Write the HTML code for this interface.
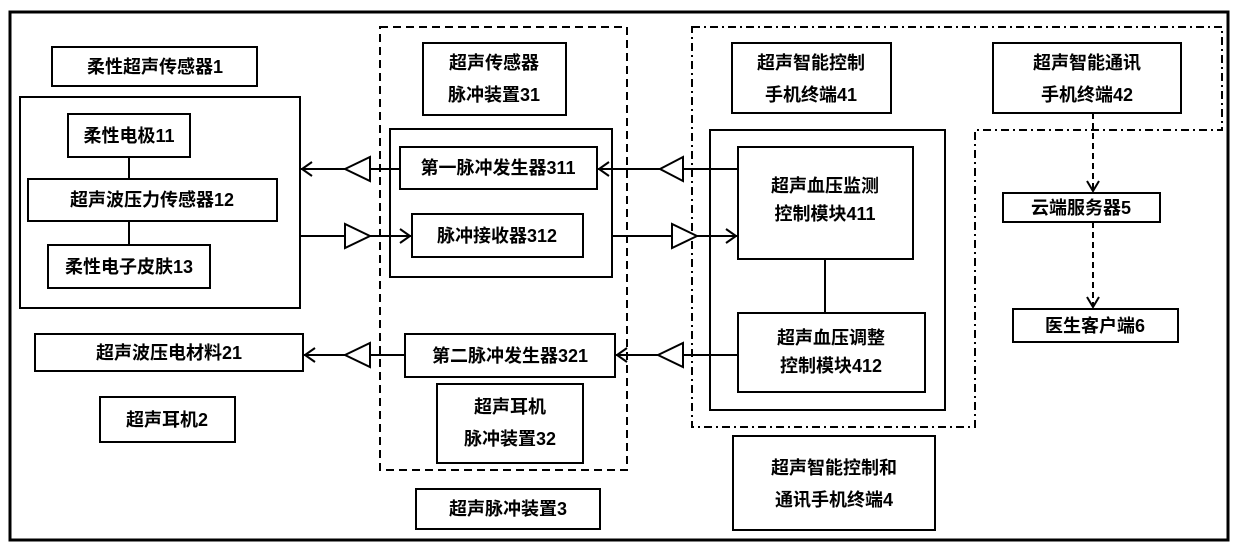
<!DOCTYPE html>
<html><head><meta charset="utf-8"><style>
html,body{margin:0;padding:0;background:#fff;}
svg text{font-family:"Liberation Sans","Noto Sans CJK SC",sans-serif;font-weight:bold;font-size:18px;fill:#000;text-anchor:middle;dominant-baseline:central;}
</style></head><body>
<svg width="1240" height="555" viewBox="0 0 1240 555" xmlns="http://www.w3.org/2000/svg">
<g fill="none" stroke="#000">
<rect x="10" y="12" width="1218" height="528" stroke-width="3"/>
<!-- dashed box 3 -->
<rect x="380" y="27" width="247" height="443" stroke-width="2" stroke-dasharray="8,5"/>
<!-- dash-dot box 4 -->
<path d="M692 27 H1222 V130 H975 V427 H692 Z" stroke-width="2" stroke-dasharray="8,4,2,4"/>
<g stroke-width="2">
<rect x="52" y="47" width="205" height="39"/>
<rect x="20" y="97" width="280" height="211"/>
<rect x="68" y="114" width="122" height="43"/>
<rect x="28" y="179" width="249" height="42"/>
<rect x="48" y="245" width="162" height="43"/>
<rect x="35" y="334" width="268" height="37"/>
<rect x="100" y="397" width="135" height="45"/>
<rect x="423" y="43" width="143" height="72"/>
<rect x="390" y="129" width="222" height="148"/>
<rect x="400" y="147" width="197" height="42"/>
<rect x="412" y="214" width="171" height="43"/>
<rect x="405" y="334" width="210" height="43"/>
<rect x="437" y="384" width="146" height="79"/>
<rect x="416" y="489" width="184" height="40"/>
<rect x="732" y="43" width="159" height="70"/>
<rect x="993" y="43" width="188" height="70"/>
<rect x="710" y="130" width="235" height="280"/>
<rect x="738" y="147" width="175" height="112"/>
<rect x="738" y="313" width="187" height="79"/>
<rect x="733" y="436" width="202" height="94"/>
<rect x="1003" y="193" width="157" height="29"/>
<rect x="1013" y="309" width="165" height="33"/>
<line x1="129" y1="157" x2="129" y2="179"/>
<line x1="129" y1="221" x2="129" y2="245"/>
<line x1="825" y1="259" x2="825" y2="313"/>
<!-- arrows -->
<line x1="300" y1="169" x2="400" y2="169"/>
<polyline points="312,162 302,169 312,176"/>
<polygon points="345,169 370,157 370,181" fill="#fff"/>
<line x1="597" y1="169" x2="738" y2="169"/>
<polyline points="609,162 599,169 609,176"/>
<polygon points="660,169 683,157 683,181" fill="#fff"/>
<line x1="300" y1="236" x2="412" y2="236"/>
<polyline points="400,229 410,236 400,243"/>
<polygon points="370,236 345,224 345,248" fill="#fff"/>
<line x1="612" y1="236" x2="738" y2="236"/>
<polyline points="726,229 736,236 726,243"/>
<polygon points="697,236 672,224 672,248" fill="#fff"/>
<line x1="303" y1="355" x2="405" y2="355"/>
<polyline points="315,348 305,355 315,362"/>
<polygon points="345,355 370,343 370,367" fill="#fff"/>
<line x1="615" y1="355" x2="738" y2="355"/>
<polyline points="627,348 617,355 627,362"/>
<polygon points="658,355 683,343 683,367" fill="#fff"/>
</g>
<g stroke-width="2" stroke-dasharray="6,4">
<line x1="1093" y1="113" x2="1093" y2="191"/>
<line x1="1093" y1="222" x2="1093" y2="307"/>
</g>
<polyline points="1087,181 1093,191 1099,181" stroke-width="2"/>
<polyline points="1087,297 1093,307 1099,297" stroke-width="2"/>
</g>
<text x="155" y="67">柔性超声传感器1</text>
<text x="129" y="136">柔性电极11</text>
<text x="152" y="200">超声波压力传感器12</text>
<text x="129" y="267">柔性电子皮肤13</text>
<text x="169" y="353">超声波压电材料21</text>
<text x="167" y="420">超声耳机2</text>
<text x="494" y="63">超声传感器</text>
<text x="494" y="95">脉冲装置31</text>
<text x="498" y="168">第一脉冲发生器311</text>
<text x="497" y="236">脉冲接收器312</text>
<text x="510" y="356">第二脉冲发生器321</text>
<text x="510" y="407">超声耳机</text>
<text x="510" y="439">脉冲装置32</text>
<text x="508" y="509">超声脉冲装置3</text>
<text x="811" y="63">超声智能控制</text>
<text x="811" y="95">手机终端41</text>
<text x="1087" y="63">超声智能通讯</text>
<text x="1087" y="95">手机终端42</text>
<text x="825" y="186">超声血压监测</text>
<text x="825" y="214">控制模块411</text>
<text x="831" y="338">超声血压调整</text>
<text x="831" y="366">控制模块412</text>
<text x="834" y="468">超声智能控制和</text>
<text x="834" y="500">通讯手机终端4</text>
<text x="1081" y="208">云端服务器5</text>
<text x="1095" y="326">医生客户端6</text>
</svg>
</body></html>
